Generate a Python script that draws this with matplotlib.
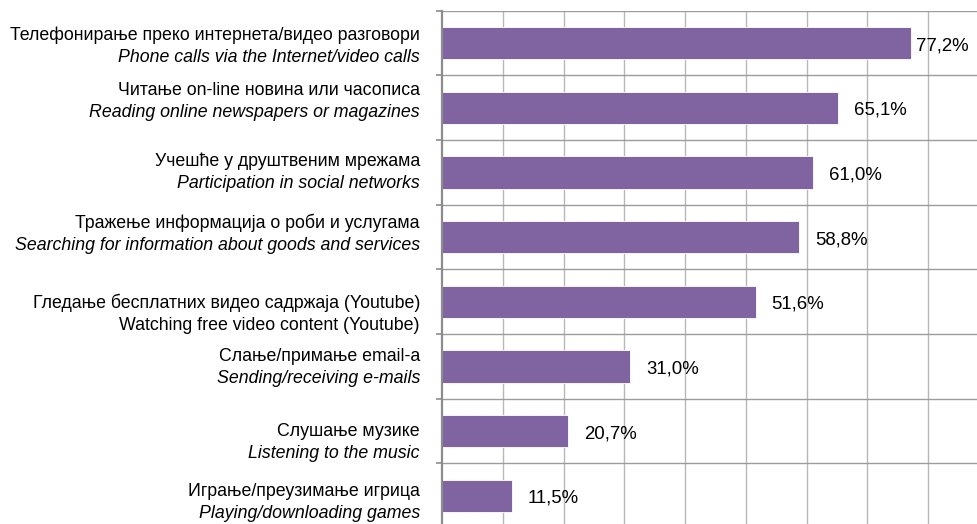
import matplotlib
matplotlib.use('Agg')
import matplotlib.pyplot as plt
from matplotlib import font_manager as fm

# ---------------- data ----------------
categories_sr = [
    'Телефонирање преко интернета/видео разговори',
    'Читање on-line новина или часописа',
    'Учешће у друштвеним мрежама',
    'Тражење информација о роби и услугама',
    'Гледање бесплатних видео садржаја (Youtube)',
    'Слање/примање email-а',
    'Слушање музике',
    'Играње/преузимање игрица',
]
categories_en = [
    'Phone calls via the Internet/video calls',
    'Reading online newspapers or magazines',
    'Participation in social networks',
    'Searching for information about goods and services',
    'Watching free video content (Youtube)',
    'Sending/receiving e-mails',
    'Listening to the music',
    'Playing/downloading games',
]
en_italic = [True, True, True, True, False, True, True, True]
values = [77.2, 65.1, 61.0, 58.8, 51.6, 31.0, 20.7, 11.5]

# ---------------- layout ----------------
label_line1_offset_px = [-9, -19, -12, -15, 0, -11, -1, -6]   # relative to bar centre
value_gap_px = [5, 16, 16, 16, 16, 16, 16, 16]

names = {f.name for f in fm.fontManager.ttflist}
FONT = 'Liberation Sans'
for cand in ['Liberation Sans Narrow', 'Arial Narrow']:
    if cand in names:
        FONT = cand
        break
FS = 12.8
VFS = 13.4

BAR = '#8064A2'
AXC = '#8C8C8C'
HGRID = '#9C9C9C'
VGRID = '#B8B8B8'

W, H = 978, 524
fig = plt.figure(figsize=(W / 100, H / 100), dpi=100)
ax = fig.add_axes([442 / W, -4 / H, 536 / W, 517.3 / H])

n = len(values)
ypos = list(range(n))
ax.barh(ypos, values, height=0.5, color=BAR, edgecolor='white', linewidth=0.6, zorder=3)

ax.set_xlim(0, 88.2)
ax.set_ylim(n - 0.5, -0.5)

ax.set_xticks([10, 20, 30, 40, 50, 60, 70, 80])
ax.set_xticklabels([])
ax.tick_params(axis='x', length=0)
ax.xaxis.grid(True, color=VGRID, linewidth=1.0, zorder=0)

ax.set_yticks([i - 0.5 for i in range(n + 1)])
ax.set_yticklabels([])
ax.tick_params(axis='y', direction='out', length=4.5, width=1.2, color=AXC)
ax.yaxis.grid(True, color=HGRID, linewidth=1.0, zorder=0)
ax.set_axisbelow(True)

for s in ['top', 'right', 'bottom']:
    ax.spines[s].set_visible(False)
ax.spines['left'].set_color(AXC)
ax.spines['left'].set_linewidth(1.6)
ax.spines['left'].set_zorder(4)

for i in range(n):
    y1 = -(label_line1_offset_px[i]) - 6
    ax.annotate(categories_sr[i], xy=(0, i), xycoords=('axes fraction', 'data'),
                xytext=(-22, y1), textcoords='offset pixels', ha='right', va='baseline',
                fontsize=FS, family=FONT, color='black')
    ax.annotate(categories_en[i], xy=(0, i), xycoords=('axes fraction', 'data'),
                xytext=(-22, y1 - 22), textcoords='offset pixels', ha='right', va='baseline',
                fontsize=FS, family=FONT, color='black',
                style='italic' if en_italic[i] else 'normal')
    lab = f'{values[i]:.1f}%'.replace('.', ',')
    ax.annotate(lab, xy=(values[i], i), xycoords='data',
                xytext=(value_gap_px[i], -7), textcoords='offset pixels', ha='left', va='baseline',
                fontsize=VFS, family=FONT, color='black', annotation_clip=False)

fig.savefig('out.png', dpi=100)
